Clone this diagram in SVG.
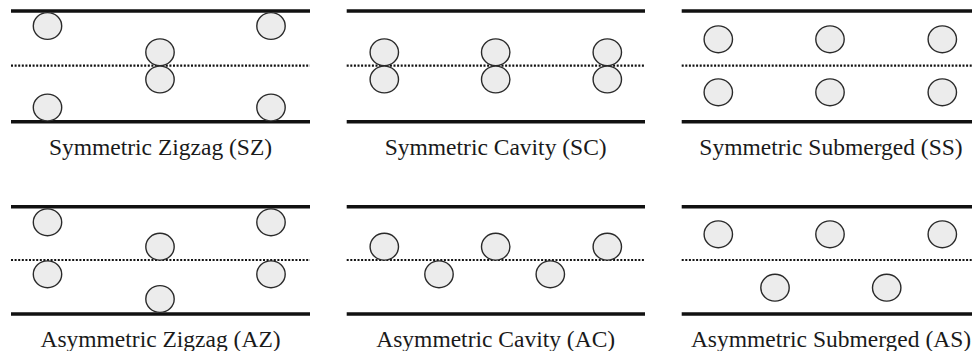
<svg xmlns="http://www.w3.org/2000/svg" width="972" height="351" viewBox="0 0 972 351">
<style>
.wall{stroke:#111;stroke-width:3.6;fill:none}
.mid{stroke:#111;stroke-width:2.2;stroke-dasharray:2 1.6;fill:none}
.c{fill:#ececec;stroke:#2a2a2a;stroke-width:1.4}
.lbl{font-family:"Liberation Serif","Times New Roman",serif;font-size:23.5px;fill:#1a1a1a;text-anchor:middle}
</style>
<defs>
<ellipse id="b" class="c" cx="0" cy="0" rx="14.2" ry="13.4"/>
</defs>
<rect width="972" height="351" fill="#fff"/>
<g id="SZ">
<line class="wall" x1="11" y1="11" x2="310" y2="11"/>
<line class="wall" x1="11" y1="121.7" x2="310" y2="121.7"/>
<line class="mid" x1="11" y1="65.7" x2="310" y2="65.7"/>
<use href="#b" x="47.5" y="26"/>
<use href="#b" x="271" y="26"/>
<use href="#b" x="160" y="52.3"/>
<use href="#b" x="160" y="79.5"/>
<use href="#b" x="47.5" y="107.5"/>
<use href="#b" x="271" y="107.5"/>
<text class="lbl" x="160.5" y="155">Symmetric Zigzag (SZ)</text>
</g>
<g id="SC">
<line class="wall" x1="346.7" y1="11" x2="645" y2="11"/>
<line class="wall" x1="346.7" y1="121.7" x2="645" y2="121.7"/>
<line class="mid" x1="346.7" y1="65.7" x2="645" y2="65.7"/>
<use href="#b" x="384.3" y="52.3"/>
<use href="#b" x="384.3" y="79.5"/>
<use href="#b" x="495.7" y="52.3"/>
<use href="#b" x="495.7" y="79.5"/>
<use href="#b" x="607.3" y="52.3"/>
<use href="#b" x="607.3" y="79.5"/>
<text class="lbl" x="495.7" y="155">Symmetric Cavity (SC)</text>
</g>
<g id="SS">
<line class="wall" x1="681.7" y1="11" x2="972" y2="11"/>
<line class="wall" x1="681.7" y1="121.7" x2="972" y2="121.7"/>
<line class="mid" x1="681.7" y1="65.7" x2="972" y2="65.7"/>
<use href="#b" x="718.3" y="39.3"/>
<use href="#b" x="830" y="39.3"/>
<use href="#b" x="942.3" y="39.3"/>
<use href="#b" x="718.3" y="92.3"/>
<use href="#b" x="830" y="92.3"/>
<use href="#b" x="942.3" y="92.3"/>
<text class="lbl" x="831" y="155">Symmetric Submerged (SS)</text>
</g>
<g id="AZ">
<line class="wall" x1="11" y1="206.7" x2="310" y2="206.7"/>
<line class="wall" x1="11" y1="314" x2="310" y2="314"/>
<line class="mid" x1="11" y1="260" x2="310" y2="260"/>
<use href="#b" x="47.5" y="222.3"/>
<use href="#b" x="271" y="222.3"/>
<use href="#b" x="160" y="246.7"/>
<use href="#b" x="47.5" y="274.3"/>
<use href="#b" x="271" y="274.3"/>
<use href="#b" x="160" y="299"/>
<text class="lbl" x="160.5" y="346.5">Asymmetric Zigzag (AZ)</text>
</g>
<g id="AC">
<line class="wall" x1="346.7" y1="206.7" x2="645" y2="206.7"/>
<line class="wall" x1="346.7" y1="314" x2="645" y2="314"/>
<line class="mid" x1="346.7" y1="260" x2="645" y2="260"/>
<use href="#b" x="384.3" y="246.7"/>
<use href="#b" x="495.7" y="246.7"/>
<use href="#b" x="607.3" y="246.7"/>
<use href="#b" x="439" y="274.3"/>
<use href="#b" x="550.3" y="274.3"/>
<text class="lbl" x="495.7" y="346.5">Asymmetric Cavity (AC)</text>
</g>
<g id="AS">
<line class="wall" x1="681.7" y1="206.7" x2="972" y2="206.7"/>
<line class="wall" x1="681.7" y1="314" x2="972" y2="314"/>
<line class="mid" x1="681.7" y1="260" x2="972" y2="260"/>
<use href="#b" x="718.3" y="234.3"/>
<use href="#b" x="830" y="234.3"/>
<use href="#b" x="942.3" y="234.3"/>
<use href="#b" x="775" y="287.7"/>
<use href="#b" x="886.7" y="287.7"/>
<text class="lbl" x="831" y="346.5">Asymmetric Submerged (AS)</text>
</g>
<g id="connectors"/>
</svg>
